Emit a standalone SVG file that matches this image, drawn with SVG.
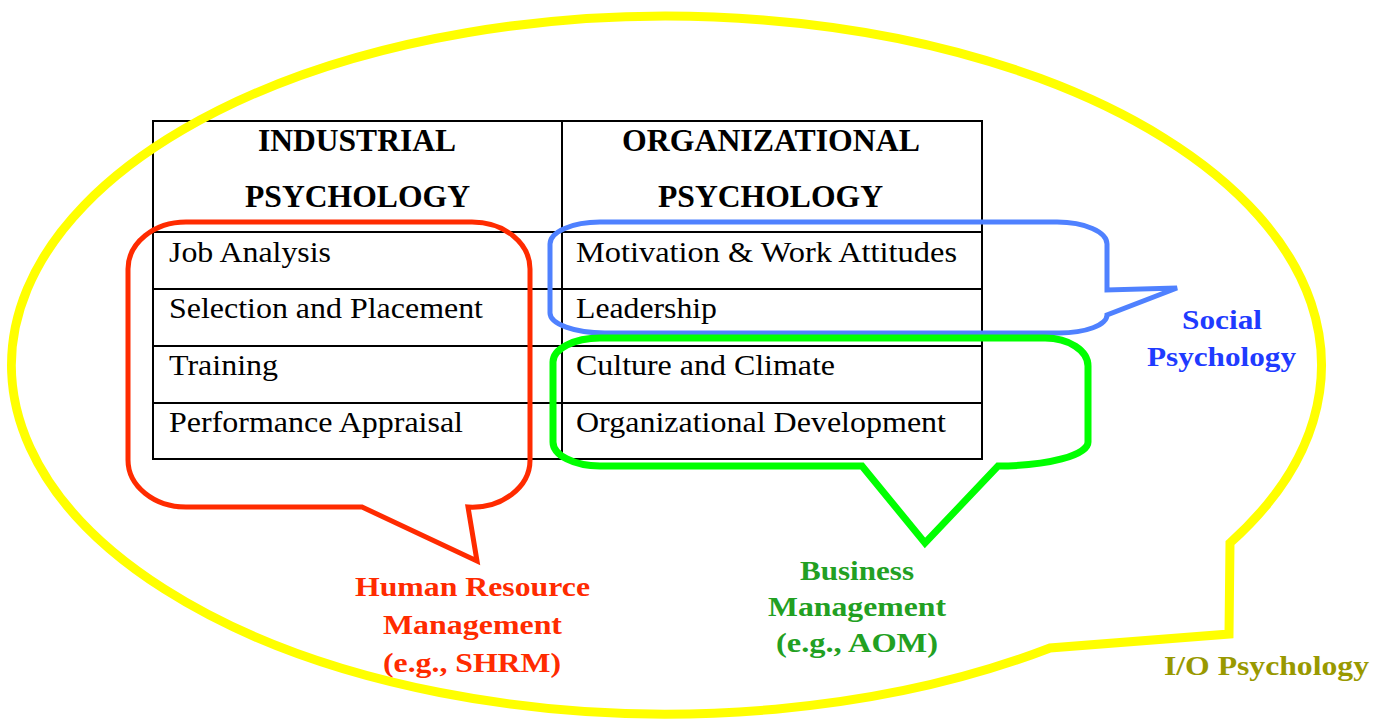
<svg xmlns="http://www.w3.org/2000/svg" width="1382" height="726" viewBox="0 0 1382 726">
  <style>
    .grid { fill: none; stroke: #000; stroke-width: 2; }
    .head { font-family: "Liberation Serif", "Times New Roman", serif; font-weight: bold; font-size: 31px; fill: #000; }
    .cell { font-family: "Liberation Serif", "Times New Roman", serif; font-size: 30px; fill: #000; }
    .tag { font-family: "Liberation Serif", "Times New Roman", serif; font-weight: bold; font-size: 27px; }
    .callout { fill: none; stroke-linejoin: miter; }
  </style>
  <rect width="1382" height="726" fill="#fff"/>

  <!-- Two-column table of topic areas -->
  <g id="table">
    <rect class="grid" x="153" y="121" width="829" height="338"/>
    <line class="grid" x1="562" y1="121" x2="562" y2="459"/>
    <line class="grid" x1="153" y1="232" x2="982" y2="232"/>
    <line class="grid" x1="153" y1="289" x2="982" y2="289"/>
    <line class="grid" x1="153" y1="346" x2="982" y2="346"/>
    <line class="grid" x1="153" y1="403" x2="982" y2="403"/>
    <text class="head" x="258" y="151" textLength="198" lengthAdjust="spacingAndGlyphs">INDUSTRIAL</text>
    <text class="head" x="245" y="207" textLength="225" lengthAdjust="spacingAndGlyphs">PSYCHOLOGY</text>
    <text class="head" x="622" y="151" textLength="298" lengthAdjust="spacingAndGlyphs">ORGANIZATIONAL</text>
    <text class="head" x="658" y="207" textLength="225" lengthAdjust="spacingAndGlyphs">PSYCHOLOGY</text>
    <text class="cell" x="169" y="262" textLength="162" lengthAdjust="spacingAndGlyphs">Job Analysis</text>
    <text class="cell" x="169" y="318" textLength="314" lengthAdjust="spacingAndGlyphs">Selection and Placement</text>
    <text class="cell" x="169" y="375" textLength="109" lengthAdjust="spacingAndGlyphs">Training</text>
    <text class="cell" x="169" y="432" textLength="294" lengthAdjust="spacingAndGlyphs">Performance Appraisal</text>
    <text class="cell" x="576" y="262" textLength="381" lengthAdjust="spacingAndGlyphs">Motivation &amp; Work Attitudes</text>
    <text class="cell" x="576" y="318" textLength="141" lengthAdjust="spacingAndGlyphs">Leadership</text>
    <text class="cell" x="576" y="375" textLength="259" lengthAdjust="spacingAndGlyphs">Culture and Climate</text>
    <text class="cell" x="576" y="432" textLength="370" lengthAdjust="spacingAndGlyphs">Organizational Development</text>
  </g>

  <!-- Red callout: industrial column -->
  <g id="hrm">
    <path class="callout" stroke="#FF2B00" stroke-width="5"
          d="M186,222 H472 A58,47 0 0 1 530,269 V460 A58,47 0 0 1 468,507 L477,561 L362,507 H186 A58,47 0 0 1 128,460 V269 A58,47 0 0 1 186,222 Z"/>
    <text class="tag" fill="#FF2B00" x="355" y="596" textLength="235" lengthAdjust="spacingAndGlyphs">Human Resource</text>
    <text class="tag" fill="#FF2B00" x="383" y="634" textLength="179" lengthAdjust="spacingAndGlyphs">Management</text>
    <text class="tag" fill="#FF2B00" x="383" y="672" textLength="178" lengthAdjust="spacingAndGlyphs">(e.g., SHRM)</text>
  </g>

  <!-- Blue callout: motivation and leadership rows -->
  <g id="social">
    <path class="callout" stroke="#4F81FF" stroke-width="5"
          d="M600,222 H1057 A50,22 0 0 1 1107,244 V290 L1177,288 L1107,315 A48,18 0 0 1 1059,333 H605 A55,20 0 0 1 550,313 V244 A50,22 0 0 1 600,222 Z"/>
    <text class="tag" fill="#1F3BFF" x="1182" y="329" textLength="80" lengthAdjust="spacingAndGlyphs">Social</text>
    <text class="tag" fill="#1F3BFF" x="1147" y="366" textLength="149" lengthAdjust="spacingAndGlyphs">Psychology</text>
  </g>

  <!-- Green callout: culture and development rows -->
  <g id="business">
    <path class="callout" stroke="#00FF00" stroke-width="7"
          d="M600,338 H1045 A43,28 0 0 1 1088,366 V442 A90,24 0 0 1 998,466 L925,543 L862,466 H600 A47,24 0 0 1 553,442 V362 A47,24 0 0 1 600,338 Z"/>
    <text class="tag" fill="#22A022" x="800" y="580" textLength="114" lengthAdjust="spacingAndGlyphs">Business</text>
    <text class="tag" fill="#22A022" x="768" y="616" textLength="178" lengthAdjust="spacingAndGlyphs">Management</text>
    <text class="tag" fill="#22A022" x="776" y="652" textLength="162" lengthAdjust="spacingAndGlyphs">(e.g., AOM)</text>
  </g>

  <!-- Yellow elliptical callout enclosing everything -->
  <g id="io">
    <path class="callout" stroke="#FFFF00" stroke-width="9"
          d="M1050,648 A655,349 0 1 1 1230,543 L1229,634 Z"/>
    <text class="tag" fill="#999900" x="1164" y="675" font-size="28" textLength="205" lengthAdjust="spacingAndGlyphs">I/O Psychology</text>
  </g>
</svg>
